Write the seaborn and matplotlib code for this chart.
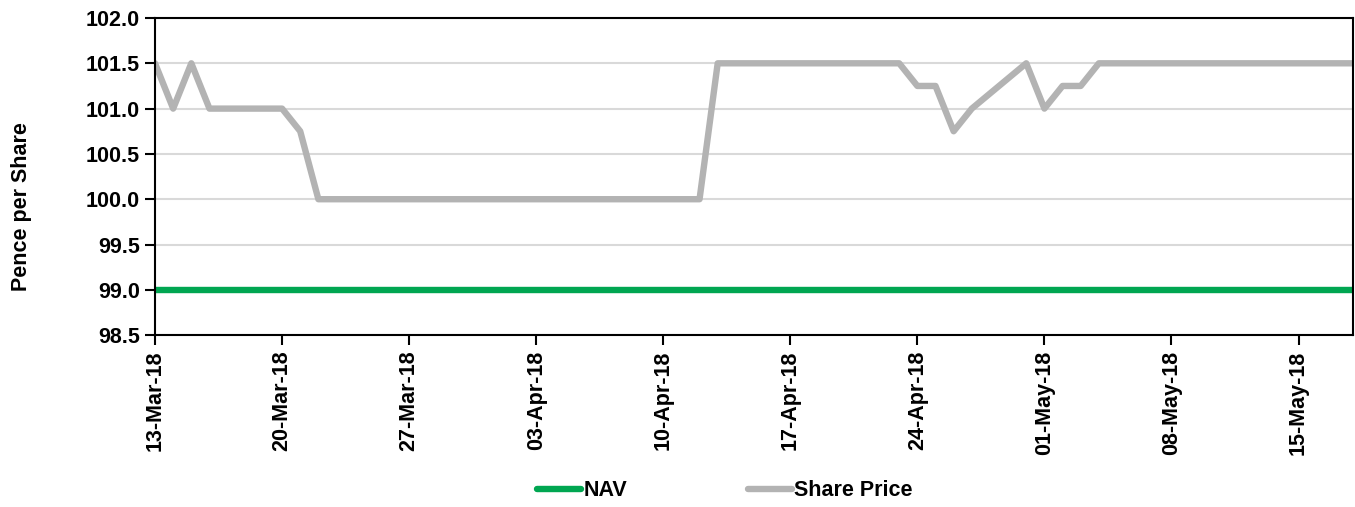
import matplotlib
matplotlib.use("Agg")
import matplotlib.pyplot as plt
import matplotlib.dates as mdates
import numpy as np
import pandas as pd
import seaborn as sns

# business days from 13-Mar-18 to 18-May-18
dates = pd.bdate_range("2018-03-13", "2018-05-18")

share_price = [
    101.5, 101.0, 101.5, 101.0,                    # 13-16 Mar
    101.0, 101.0, 100.75, 100.0, 100.0,            # 19-23 Mar
    100.0, 100.0, 100.0, 100.0, 100.0,             # 26-30 Mar
    100.0, 100.0, 100.0, 100.0, 100.0,             # 02-06 Apr
    100.0, 100.0, 100.0, 100.0, 101.5,             # 09-13 Apr
    101.5, 101.5, 101.5, 101.5, 101.5,             # 16-20 Apr
    101.5, 101.25, 101.25, 100.75, 101.0,          # 23-27 Apr
    101.5, 101.0, 101.25, 101.25, 101.5,           # 30 Apr-04 May
    101.5, 101.5, 101.5, 101.5, 101.5,             # 07-11 May
    101.5, 101.5, 101.5, 101.5, 101.5,             # 14-18 May
]
nav = [99.0] * len(share_price)

series_names = ["NAV", "Share Price"]
series_colors = ["#00A651", "#B3B3B3"]

df = pd.DataFrame({"date": dates, "NAV": nav, "Share Price": share_price})
df_long = df.melt(id_vars="date", var_name="series", value_name="value")

sns.set_theme(style="white")
plt.rcParams["font.family"] = ["Liberation Sans", "DejaVu Sans"]
plt.rcParams["font.weight"] = "bold"
plt.rcParams["text.color"] = "black"

fig = plt.figure(figsize=(13.55, 5.07), dpi=100)
ax = fig.add_axes([0.1144, 0.339, 0.8841, 0.6255])

sns.lineplot(data=df_long, x="date", y="value", hue="series",
             hue_order=series_names, palette=series_colors,
             linewidth=4.6, ax=ax, legend=False)

ax.set_ylim(98.5, 102.0)
ax.set_yticks(np.arange(98.5, 102.01, 0.5))
ax.yaxis.set_major_formatter(matplotlib.ticker.FormatStrFormatter("%.1f"))
ax.set_xlim(pd.Timestamp("2018-03-13"), pd.Timestamp("2018-05-18"))
ax.set_xticks(pd.date_range("2018-03-13", "2018-05-15", freq="7D"))
ax.xaxis.set_major_formatter(mdates.DateFormatter("%d-%b-%y"))
plt.setp(ax.get_xticklabels(), rotation=90)

ax.grid(axis="y", color="#D9D9D9", linewidth=1.5)
ax.set_axisbelow(True)
for s in ax.spines.values():
    s.set_color("black")
    s.set_linewidth(1.5)
ax.tick_params(axis="both", which="major", bottom=True, left=True,
               direction="out", length=7, width=1.5,
               color="black", labelsize=15.5, labelcolor="black", pad=4)
for lbl in ax.get_xticklabels() + ax.get_yticklabels():
    lbl.set_fontweight("bold")

ax.set_xlabel("")
ax.set_ylabel("Pence per Share", fontsize=15.5, fontweight="bold", color="black")
ax.yaxis.set_label_coords(-0.1027, 0.404)

handles = [plt.Line2D([], [], color=c, linewidth=4.6, solid_capstyle="round")
           for c in series_colors]
leg = fig.legend(handles, series_names, loc="center", bbox_to_anchor=(0.535, 0.032),
                 ncol=2, frameon=False, handlelength=2.05, handletextpad=0.1,
                 columnspacing=5.6, prop={"size": 15.5, "weight": "bold"})

fig.savefig("out.png", dpi=100)
